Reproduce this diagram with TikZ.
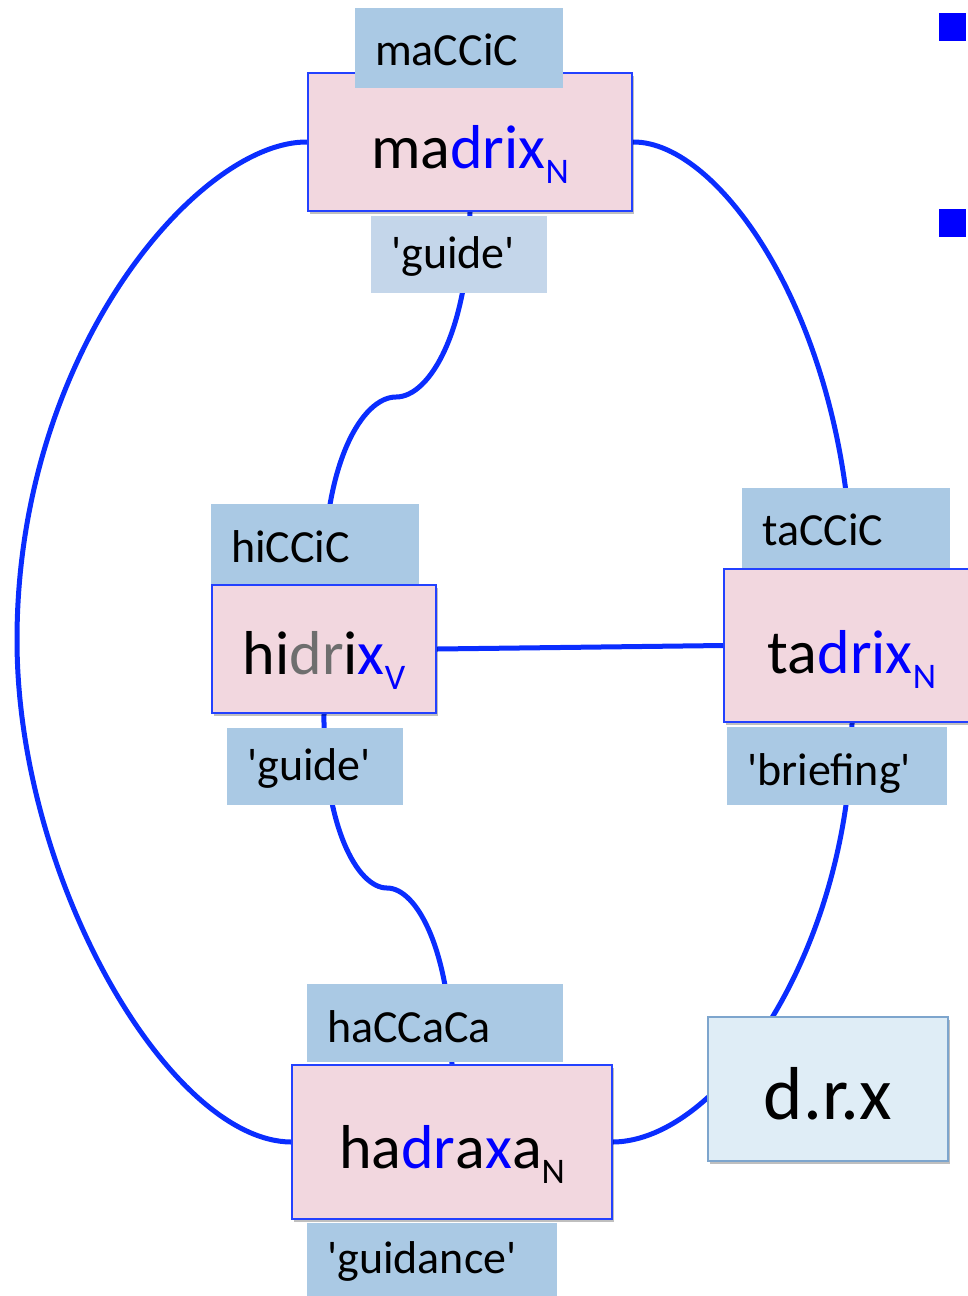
\documentclass[tikz,border=0pt]{standalone}
\usepackage{fontspec}
\setmainfont{Carlito}[Ligatures=TeXOff]
\usetikzlibrary{shadows}

\definecolor{linkblue}{RGB}{10,45,255}
\definecolor{wordpink}{RGB}{242,215,223}
\definecolor{wordedge}{RGB}{35,65,255}
\definecolor{tagblue}{RGB}{170,201,228}
\definecolor{taglight}{RGB}{196,214,234}
\definecolor{rootfill}{RGB}{223,237,246}
\definecolor{rootedge}{RGB}{125,165,205}
\definecolor{rootgray}{RGB}{110,110,110}
\definecolor{hl}{RGB}{0,0,255}

% lowered part-of-speech tag after a word
\newcommand{\possub}[2][black]{\raisebox{-15pt}{\fontsize{36}{36}\selectfont\color{#1}#2}}

\pgfdeclarelayer{links}
\pgfsetlayers{links,main}

\begin{document}
\begin{tikzpicture}[x=1pt,y=-1pt,
  wordbox/.style={draw=wordedge, line width=2pt, fill=wordpink, anchor=north west,
    inner xsep=0pt, inner ysep=0pt, minimum height=0pt,
    font=\fontsize{62}{62}\selectfont,
    drop shadow={shadow xshift=2pt, shadow yshift=-3pt, opacity=0.25, fill=black}},
  rootbox/.style={draw=rootedge, line width=2pt, fill=rootfill, anchor=north west,
    inner xsep=0pt, inner ysep=0pt, minimum height=0pt,
    font=\fontsize{75}{75}\selectfont,
    drop shadow={shadow xshift=2pt, shadow yshift=-3pt, opacity=0.25, fill=black}},
  tagbox/.style={fill=tagblue, anchor=north west, inner xsep=20pt, inner ysep=0pt,
    align=left, font=\fontsize{46}{46}\selectfont},
  link/.style={draw=linkblue, line width=5pt},
  bulletsq/.style={fill=hl, draw=none, anchor=north west, inner sep=0pt,
    minimum width=27pt, minimum height=28pt}
]
\useasboundingbox (0,0) rectangle (967,1296);

% word boxes
\node[wordbox, minimum width=324pt, text height=95pt, text depth=43pt] (madrix) at (307,72)
  {ma{\color{hl}drix}\possub[hl]{N}};
\node[wordbox, minimum width=224pt, text height=89pt, text depth=39pt] (hidrix) at (211,584)
  {hi{\color{rootgray}dr}i{\color{hl}x}\possub[hl]{V}};
\node[wordbox, minimum width=256pt, text height=104pt, text depth=49pt] (tadrix) at (723,568)
  {ta{\color{hl}drix}\possub[hl]{N}};
\node[wordbox, minimum width=320pt, text height=103pt, text depth=51pt] (hadraxa) at (291,1064)
  {ha{\color{hl}dr}a{\color{hl}x}a\possub{N}};

% root box
\node[rootbox, minimum width=240pt, text height=102pt, text depth=42pt] (drx) at (707,1016) {d.r.x};

% pattern and gloss tags
\node[tagbox, text width=168pt, text height=57pt, text depth=23pt] (patma) at (355,8) {maCCiC};
\node[tagbox, fill=taglight, text width=136pt, text height=52pt, text depth=25pt] (glossma) at (371,216) {'guide'};
\node[tagbox, text width=168pt, text height=58pt, text depth=22pt] (pathi) at (211,504) {hiCCiC};
\node[tagbox, text width=136pt, text height=52pt, text depth=25pt] (glosshi) at (227,728) {'guide'};
\node[tagbox, text width=168pt, text height=57pt, text depth=23pt] (patta) at (742,488) {taCCiC};
\node[tagbox, text width=180pt, text height=58pt, text depth=20pt] (glossta) at (727,727) {'briefing'};
\node[tagbox, text width=216pt, text height=58pt, text depth=20pt] (patha) at (307,984) {haCCaCa};
\node[tagbox, text width=210pt, text height=50pt, text depth=40pt] (glossha) at (307,1223) {'guidance'};

% list bullets at the right edge
\node[bulletsq] (bulletone) at (939,13) {};
\node[bulletsq] (bullettwo) at (939,209) {};

% connectors between the words
\begin{pgfonlayer}{links}
\draw[link] (madrix.west) .. controls (200,141) and (17,350) .. (17,640)
  .. controls (17,880) and (170,1141) .. (hadraxa.west);
\draw[link] (madrix.east) .. controls (720,141) and (845,320) .. (tadrix.north);
\draw[link] (madrix.south) .. controls (469,330) and (430,397) .. (396,397)
  .. controls (362,397) and (323,464) .. (hidrix.north);
\draw[link] (hidrix.south) .. controls (323,825) and (357,888) .. (387,888)
  .. controls (417,888) and (451,951) .. (hadraxa.north);
\draw[link] (hidrix.east) -- (tadrix.west);
\draw[link] (tadrix.south) .. controls (851,950) and (720,1141) .. (hadraxa.east);
\end{pgfonlayer}
\end{tikzpicture}
\end{document}
